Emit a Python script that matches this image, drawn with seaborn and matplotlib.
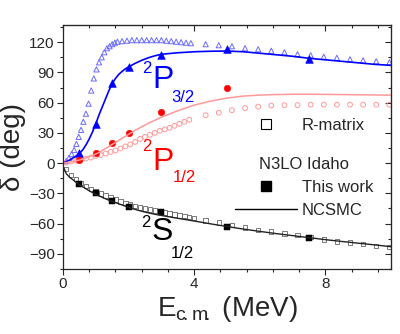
import matplotlib
matplotlib.use("Agg")
import matplotlib.pyplot as plt
import seaborn as sns
from matplotlib.lines import Line2D

# This work (filled symbols)
e_work = [0.5, 1.0, 1.5, 2.0, 3.0, 5.0, 7.5]
p32_work = [10, 39, 79, 95, 107, 113, 103]
e_work_p12 = [0.5, 1.0, 1.5, 2.0, 3.0, 5.0]
p12_work = [3, 10, 19.5, 30, 51, 75]
s12_work = [-21, -30, -37.5, -44, -49, -63, -74]

# NCSMC curves
e_ncsmc = [0.0, 0.1, 0.2, 0.3, 0.4, 0.5, 0.6, 0.7, 0.8, 0.9, 1.0, 1.1, 1.2, 1.3, 1.4, 1.5,
           1.6, 1.7, 1.8, 1.9, 2.0, 2.2, 2.4, 2.6, 2.8, 3.0, 3.5, 4.0, 4.5, 5.0, 5.5,
           6.0, 6.5, 7.0, 7.5, 8.0, 8.5, 9.0, 9.5, 10.0]
p32_ncsmc = [0, 1.5, 3, 5, 7, 9.6, 13, 18, 24, 31, 39, 48, 56, 64, 72, 79,
             84, 88, 91, 93.5, 95.5, 99, 102, 104.5, 106.5, 108, 109.5, 110.5, 111, 111.2, 110.5,
             109, 107.5, 106, 104, 102.5, 101, 99.5, 98, 97]
p12_ncsmc = [0, 0.5, 1, 1.6, 2.3, 3, 4, 5, 6.3, 7.6, 9, 10.5, 12.5, 14.5, 16.5, 18.5,
             20.5, 22.5, 24.5, 26.5, 28.5, 32.5, 36, 39.5, 42.5, 45.5, 52, 57.5, 61.5, 64.5, 66.5,
             67.5, 68, 68.3, 68.3, 68.2, 68, 67.8, 67.6, 67.4]
s12_ncsmc = [-3, -10.5, -14, -16.5, -19, -21.5, -23.5, -25.5, -27.5, -29.3, -31, -32.5, -34, -35.5, -36.8, -38,
             -39.2, -40.4, -41.6, -42.8, -44, -46, -47.8, -49.4, -50.8, -52, -54.8, -57.5, -60.3, -63, -65.5,
             -67.8, -70, -72, -74, -76, -77.8, -79.5, -81.2, -83]

# R-matrix (open symbols)
e_rm_p32 = [0.10, 0.18, 0.26, 0.34, 0.41, 0.48, 0.55, 0.62, 0.70, 0.78, 0.86, 0.94, 1.02, 1.10,
            1.18, 1.26, 1.34, 1.42, 1.50, 1.58, 1.66, 1.80, 1.95, 2.10, 2.25, 2.40, 2.55, 2.70,
            2.85, 3.00, 3.15, 3.30, 3.45, 3.60, 3.75, 3.90, 4.35, 4.75, 5.15, 5.55, 5.95, 6.35,
            6.75, 7.15, 7.55, 7.95, 8.35, 8.75, 9.15, 9.55, 9.95]
p32_rm = [2, 5, 9, 13, 19, 26, 33, 41, 49, 59, 72, 84, 93, 100,
          105, 110, 114, 116, 118, 119.5, 120.5, 121, 121.5, 122, 122, 122, 122, 122,
          122, 122, 121.5, 121, 120.5, 120, 119.5, 119, 118, 117, 116, 114, 113, 111.5,
          110, 108, 107, 105.5, 104.5, 103, 102, 101, 100]
e_rm_p12 = [0.10, 0.25, 0.40, 0.55, 0.70, 0.85, 1.00, 1.15, 1.30, 1.45, 1.60, 1.75, 1.90, 2.05,
            2.20, 2.35, 2.50, 2.65, 2.80, 2.95, 3.10, 3.25, 3.40, 3.55, 3.70, 3.85, 4.35, 4.75,
            5.15, 5.55, 5.95, 6.35, 6.75, 7.15, 7.55, 7.95, 8.35, 8.75, 9.15, 9.55, 9.95]
p12_rm = [0.5, 1.5, 2.5, 3.5, 4.5, 5.5, 7, 8, 9.5, 11, 12.5, 14.5, 16.5, 18.5,
          21, 24, 26, 28, 30, 32, 33.5, 35, 37, 39, 41, 43, 47.5, 50,
          52.5, 54.5, 56, 57, 57.5, 57.5, 58, 58, 58, 58, 58, 58, 58]
e_rm_s12 = [0.10, 0.25, 0.40, 0.55, 0.70, 0.85, 1.00, 1.15, 1.30, 1.45, 1.60, 1.75, 1.90, 2.05,
            2.20, 2.35, 2.50, 2.65, 2.80, 2.95, 3.10, 3.25, 3.40, 3.55, 3.70, 3.85, 4.00, 4.35,
            4.75, 5.15, 5.55, 5.95, 6.35, 6.75, 7.15, 7.55, 7.95, 8.35, 8.75, 9.15, 9.55, 9.95]
s12_rm = [-6, -12, -16, -20, -23, -26, -28, -30, -32, -34, -36, -38, -39.5, -41,
          -42.5, -44, -45, -46, -47, -48, -49, -50, -51, -52, -52.5, -53.5, -54.5, -57,
          -59, -61.5, -64, -66.5, -68, -70, -71.5, -73.5, -76, -78, -79, -80.5, -82, -83]

x_major = [0, 4, 8]
x_minor = [0.8, 1.6, 2.4, 3.2, 4.8, 5.6, 6.4, 7.2, 8.8, 9.6]
y_major = [-90, -60, -30, 0, 30, 60, 90, 120]
y_minor = [-105, -75, -45, -15, 15, 45, 75, 105, 135]

sns.set_style("ticks")
plt.rcParams['font.family'] = ['Liberation Sans', 'DejaVu Sans']
plt.rcParams['mathtext.fontset'] = 'custom'
plt.rcParams['mathtext.rm'] = 'Liberation Sans'
plt.rcParams['mathtext.it'] = 'Liberation Sans:italic'

fig = plt.figure(figsize=(4, 3.34), dpi=100)
ax = fig.add_axes([0.1575, 0.195, 0.82, 0.73])

blue, lblue = '#0000ff', '#6a6aff'
red, lred = '#ff0000', '#ff9999'
grey = '#666666'

# R-matrix open symbols
sns.scatterplot(x=e_rm_p32, y=p32_rm, ax=ax, marker='^', s=14, facecolor='none',
                edgecolor=lblue, linewidth=0.7)
sns.scatterplot(x=e_rm_p12, y=p12_rm, ax=ax, marker='o', s=12, facecolor='none',
                edgecolor=lred, linewidth=0.7)
sns.scatterplot(x=e_rm_s12, y=s12_rm, ax=ax, marker='s', s=10, facecolor='none',
                edgecolor=grey, linewidth=0.6)

# NCSMC lines
sns.lineplot(x=e_ncsmc, y=p32_ncsmc, ax=ax, color=blue, linewidth=1.2, sort=False)
sns.lineplot(x=e_ncsmc, y=p12_ncsmc, ax=ax, color=lred, linewidth=1.1, sort=False)
sns.lineplot(x=e_ncsmc, y=s12_ncsmc, ax=ax, color='#222222', linewidth=1.0, sort=False)

# This work filled symbols
sns.scatterplot(x=e_work, y=p32_work, ax=ax, marker='^', s=30, color=blue, edgecolor=blue)
sns.scatterplot(x=e_work_p12, y=p12_work, ax=ax, marker='o', s=22, color=red, edgecolor=red)
sns.scatterplot(x=e_work, y=s12_work, ax=ax, marker='s', s=18, color='black', edgecolor='black')

ax.set_xlim(0, 10)
ax.set_ylim(-105, 137)
ax.set_xticks(x_major)
ax.set_yticks(y_major)
ax.set_xticks(x_minor, minor=True)
ax.set_yticks(y_minor, minor=True)
ax.tick_params(which='major', direction='out', length=4, width=0.8, labelsize=11, pad=2)
ax.tick_params(which='minor', direction='out', length=2.5, width=0.8)
for sp in ax.spines.values():
    sp.set_linewidth(0.9)

# mirrored ticks pointing inward on top / right
top = ax.secondary_xaxis('top')
top.set_xticks(x_major)
top.set_xticks(x_minor, minor=True)
top.tick_params(which='both', direction='in', labeltop=False, width=0.8)
top.tick_params(which='major', length=4)
top.tick_params(which='minor', length=2.5)
right = ax.secondary_yaxis('right')
right.set_yticks(y_major)
right.set_yticks(y_minor, minor=True)
right.tick_params(which='both', direction='in', labelright=False, width=0.8)
right.tick_params(which='major', length=4)
right.tick_params(which='minor', length=2.5)

ax.set_xlabel(r"E$_{\rm c\!.m\!.}$ (MeV)", fontsize=20, labelpad=2)
ax.set_ylabel(r"δ (deg)", fontsize=20, labelpad=2)

# partial-wave labels
ax.text(2.56, 94, "2", color=blue, fontsize=12, ha='center', va='center')
ax.text(2.73, 74.4, "P", color=blue, fontsize=23, ha='left', va='baseline')
ax.text(3.30, 60.5, "3/2", color=blue, fontsize=12, ha='left', va='baseline')
ax.text(2.56, 16, "2", color=red, fontsize=12, ha='center', va='center')
ax.text(2.73, -7, "P", color=red, fontsize=23, ha='left', va='baseline')
ax.text(3.36, -18.8, "1/2", color=red, fontsize=12, ha='left', va='baseline')
ax.text(2.53, -58.5, "2", color='black', fontsize=12, ha='center', va='center')
ax.text(2.70, -76.4, "S", color='black', fontsize=23, ha='left', va='baseline')
ax.text(3.27, -94.2, "1/2", color='black', fontsize=12, ha='left', va='baseline')

# legends
h_rm = Line2D([], [], marker='s', linestyle='none', markersize=7, markerfacecolor='none',
              markeredgecolor='black', markeredgewidth=0.8)
leg1 = ax.legend([h_rm], ["R-matrix"], loc='center left', bbox_to_anchor=(0.524, 0.59),
                 frameon=False, fontsize=12, handlelength=3.7, handletextpad=0.3,
                 borderpad=0, borderaxespad=0)
ax.add_artist(leg1)
h_tw = Line2D([], [], marker='s', linestyle='none', markersize=7, color='black')
h_nc = Line2D([], [], color='black', linewidth=1.0)
leg2 = ax.legend([h_tw, h_nc], ["This work", "NCSMC"], title="N3LO Idaho",
                 title_fontsize=12, loc='upper left', bbox_to_anchor=(0.524, 0.46),
                 frameon=False, fontsize=12, handlelength=3.7, handletextpad=0.3,
                 labelspacing=0.45, borderpad=0, borderaxespad=0)
leg2._legend_box.sep = 6

plt.savefig("out.png", dpi=100)
